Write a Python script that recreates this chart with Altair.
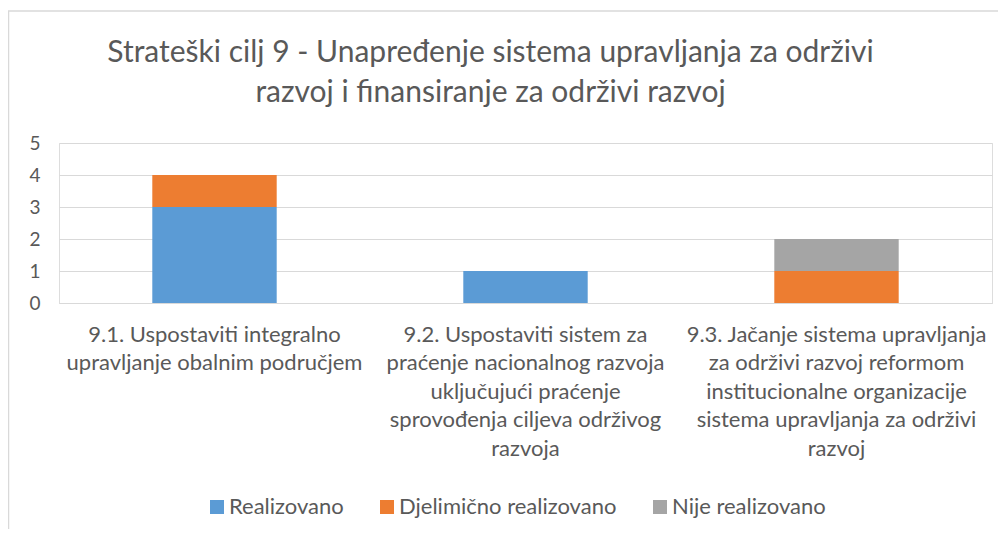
import altair as alt
import pandas as pd

title_lines = ["Strateški cilj 9 - Unapređenje sistema upravljanja za održivi",
               "razvoj i finansiranje za održivi razvoj"]

category_lines = [
    ["9.1. Uspostaviti integralno", "upravljanje obalnim područjem"],
    ["9.2. Uspostaviti sistem za", "praćenje nacionalnog razvoja", "uključujući praćenje",
     "sprovođenja ciljeva održivog", "razvoja"],
    ["9.3. Jačanje sistema upravljanja", "za održivi razvoj reformom", "institucionalne organizacije",
     "sistema upravljanja za održivi", "razvoj"],
]
categories = ["|".join(c) for c in category_lines]

series = ["Realizovano", "Djelimično realizovano", "Nije realizovano"]
colors = ["#5B9BD5", "#ED7D31", "#A5A5A5"]

realizovano = [3, 1, 0]
djelimicno = [1, 0, 1]
nije = [0, 0, 1]

rows = []
for i, cat in enumerate(categories):
    for s, vals in zip(series, [realizovano, djelimicno, nije]):
        rows.append({"cat": cat, "series": s, "value": vals[i], "order": series.index(s)})
df = pd.DataFrame(rows)

FONT = "Lato"
GREY = "#595959"

bars = alt.Chart(df).mark_bar().encode(
    x=alt.X("cat:N", sort=categories, title=None,
            scale=alt.Scale(paddingInner=0.6, paddingOuter=0.3),
            axis=alt.Axis(labelExpr="split(datum.value, '|')", labelAngle=0,
                          labelFontSize=22, labelColor=GREY, labelFont=FONT,
                          labelLineHeight=28.5, labelPadding=21, labelLimit=400,
                          ticks=False, domainColor="#D9D9D9", domainWidth=1)),
    y=alt.Y("value:Q", stack="zero", title=None,
            scale=alt.Scale(domain=[0, 5], nice=False),
            axis=alt.Axis(values=[0, 1, 2, 3, 4, 5], labelFontSize=19, labelColor=GREY,
                          labelFont=FONT, labelPadding=19, ticks=False, domain=False,
                          gridColor="#D9D9D9", gridWidth=1)),
    color=alt.Color("series:N", sort=series,
                    scale=alt.Scale(domain=series, range=colors),
                    legend=alt.Legend(title=None, orient="none", direction="horizontal",
                                      legendX=147, legendY=353, symbolType="square",
                                      symbolSize=196, symbolStrokeWidth=0,
                                      labelFontSize=22, labelColor=GREY, labelFont=FONT,
                                      labelLimit=400, columnPadding=32, symbolOffset=0,
                                      labelOffset=1)),
    order=alt.Order("order:Q"),
)

border_df = pd.DataFrame({"k": [0]})
top_border = alt.Chart(border_df).mark_rule(color="#D9D9D9", strokeWidth=1.5).encode(
    x=alt.value(-51), x2=alt.value(947), y=alt.value(-132))
left_border = alt.Chart(border_df).mark_rule(color="#D9D9D9", strokeWidth=1.5).encode(
    x=alt.value(-50.5), y=alt.value(-132), y2=alt.value(400))

chart = alt.layer(bars, top_border, left_border).properties(
    width=933, height=160,
    title=alt.TitleParams(text=title_lines, fontSize=30, color=GREY, font=FONT,
                          fontWeight="normal", anchor="middle", dx=-35, offset=-98,
                          lineHeight=40),
    autosize=alt.AutoSizeParams(type="none"),
    padding={"left": 51, "top": 135, "right": 6, "bottom": 226},
).configure_view(stroke=None).configure(background="white")

chart.save("out.html", embed_options={"renderer": "svg", "actions": False})
